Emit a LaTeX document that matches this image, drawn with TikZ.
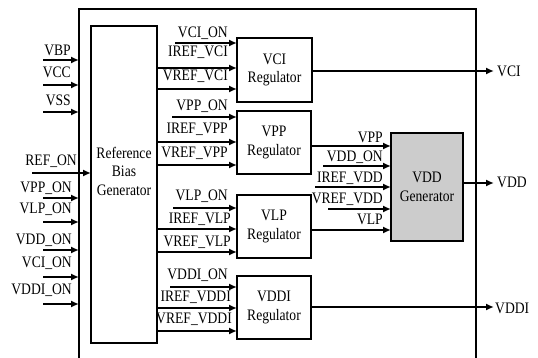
\documentclass[tikz,border=0pt]{standalone}
\usepackage{fontspec}
\setmainfont[FakeStretch=0.85]{Liberation Serif}
\usetikzlibrary{arrows.meta}
\begin{document}
\begin{tikzpicture}[x=1pt,y=-1pt,
  font=\fontsize{16}{18.5}\selectfont,
  box/.style={draw,line width=1.6pt,inner sep=0pt,outer sep=0pt,align=center},
  sig/.style={line width=1.8pt,-{Latex[length=8pt,width=7pt]}},
  wire/.style={line width=1.6pt},
  lab/.style={anchor=base east,inner sep=0pt},
  olab/.style={anchor=base west,inner sep=0pt}]
\useasboundingbox (0,0) rectangle (538,358);

% outer frame
\coordinate (oBL) at (79,358);
\coordinate (oTL) at (79,9);
\coordinate (oTR) at (476,9);
\coordinate (oBR) at (476,358);
\draw[wire] (oBL) -- (oTL) -- (oTR) -- (oBR);

% blocks
\node[box,minimum width=66pt,minimum height=317pt] (ref) at (124,184.5) {};
\node[inner sep=0pt,align=center] (reftext) at (124,171) {Reference\\Bias\\Generator};
\node[box,minimum width=75pt,minimum height=64pt] (vci) at (274.5,70) {VCI\\Regulator};
\node[box,minimum width=74pt,minimum height=63pt] (vpp) at (274,142.5) {VPP\\Regulator};
\node[box,minimum width=74pt,minimum height=63pt] (vlp) at (274,226.5) {VLP\\Regulator};
\node[box,minimum width=74pt,minimum height=63pt] (vddi) at (274,307.5) {VDDI\\Regulator};
\node[box,fill=gray!40,minimum width=72pt,minimum height=108pt] (vdd) at (427,187) {VDD\\Generator};

% left inputs
\node[lab] (lvbp) at (71,56) {VBP};
\node[lab] (lvcc) at (71,78) {VCC};
\node[lab] (lvss) at (71,106) {VSS};
\node[lab] (lref) at (77,166) {REF\_ON};
\node[lab] (lvppon) at (72,193) {VPP\_ON};
\node[lab] (lvlpon) at (72,214) {VLP\_ON};
\node[lab] (lvddon) at (72,244) {VDD\_ON};
\node[lab] (lvcion) at (72,267) {VCI\_ON};
\node[lab] (lvddion) at (72,294) {VDDI\_ON};

\coordinate (s1) at (43,60);
\coordinate (s2) at (43,85);
\coordinate (s3) at (43,112);
\coordinate (s4) at (32,173);
\coordinate (s5) at (43,198);
\coordinate (s6) at (43,222);
\coordinate (s7) at (43,250);
\coordinate (s8) at (43,277);
\coordinate (s9) at (43,304);
\draw[sig] (s1) -- (s1 -| oTL);
\draw[sig] (s2) -- (s2 -| oTL);
\draw[sig] (s3) -- (s3 -| oTL);
\draw[sig] (s4) -- (s4 -| ref.west);
\draw[sig] (s5) -- (s5 -| oTL);
\draw[sig] (s6) -- (s6 -| oTL);
\draw[sig] (s7) -- (s7 -| oTL);
\draw[sig] (s8) -- (s8 -| oTL);
\draw[sig] (s9) -- (s9 -| oTL);

% VCI regulator inputs
\node[lab] at (228,38) {VCI\_ON};
\node[lab] at (228,57) {IREF\_VCI};
\node[lab] at (228,81) {VREF\_VCI};
\coordinate (a1) at (175,43);
\draw[sig] (a1) -- (a1 -| vci.west);
\draw[sig] (ref.east |- 0,68) -- (vci.west |- 0,68);
\draw[sig] (ref.east |- 0,89) -- (vci.west |- 0,89);

% VPP regulator inputs
\node[lab] at (228,111) {VPP\_ON};
\node[lab] at (228,134) {IREF\_VPP};
\node[lab] at (228,158) {VREF\_VPP};
\coordinate (b1) at (172,117);
\draw[sig] (b1) -- (b1 -| vpp.west);
\draw[sig] (ref.east |- 0,142) -- (vpp.west |- 0,142);
\draw[sig] (ref.east |- 0,165) -- (vpp.west |- 0,165);

% VLP regulator inputs
\node[lab] at (228,201) {VLP\_ON};
\node[lab] at (231,223) {IREF\_VLP};
\node[lab] at (231,246) {VREF\_VLP};
\coordinate (c1) at (173,208);
\draw[sig] (c1) -- (c1 -| vlp.west);
\draw[sig] (ref.east |- 0,229) -- (vlp.west |- 0,229);
\draw[sig] (ref.east |- 0,252) -- (vlp.west |- 0,252);

% VDDI regulator inputs
\node[lab] at (228,279) {VDDI\_ON};
\node[lab] at (231,301) {IREF\_VDDI};
\node[lab] at (232,323) {VREF\_VDDI};
\coordinate (d1) at (170,287);
\draw[sig] (d1) -- (d1 -| vddi.west);
\draw[sig] (ref.east |- 0,308) -- (vddi.west |- 0,308);
\draw[sig] (ref.east |- 0,331) -- (vddi.west |- 0,331);

% VDD generator inputs
\node[lab] at (383,143) {VPP};
\node[lab] at (383,162) {VDD\_ON};
\node[lab] at (383,183) {IREF\_VDD};
\node[lab] at (383,204) {VREF\_VDD};
\node[lab] at (383,225) {VLP};
\coordinate (e2) at (323,166);
\coordinate (e3) at (315,187);
\coordinate (e4) at (328,209);
\draw[sig] (vpp.east |- 0,146) -- (vdd.west |- 0,146);
\draw[sig] (e2) -- (e2 -| vdd.west);
\draw[sig] (e3) -- (e3 -| vdd.west);
\draw[sig] (e4) -- (e4 -| vdd.west);
\draw[sig] (vlp.east |- 0,230) -- (vdd.west |- 0,230);

% outputs
\coordinate (t1) at (494,71);
\coordinate (t2) at (494,183);
\coordinate (t3) at (494,307);
\draw[sig] (vci.east |- t1) -- (t1);
\draw[sig] (vdd.east |- t2) -- (t2);
\draw[sig] (vddi.east |- t3) -- (t3);
\node[olab] (ovci) at (497,77) {VCI};
\node[olab] (ovdd) at (497,188) {VDD};
\node[olab] (ovddi) at (495,313) {VDDI};
\end{tikzpicture}
\end{document}
